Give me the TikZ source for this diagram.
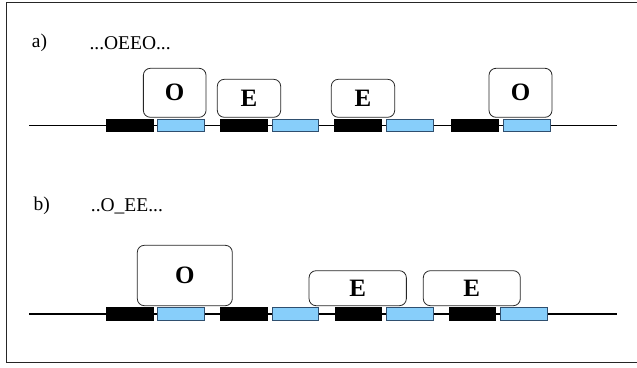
\documentclass[tikz,border=0pt]{standalone}
\usepackage{fontspec}
\setmainfont{Liberation Serif}
\definecolor{segblue}{HTML}{87CEFA}
\definecolor{segedge}{HTML}{2F4F6F}
\begin{document}
\begin{tikzpicture}[x=1pt,y=-1pt,
  frame/.style={line width=1pt, draw=black!85},
  dna/.style={line width=1.2pt},
  seg/.style={minimum height=12.7pt, minimum width=46.5pt, inner sep=0pt, anchor=west},
  blackseg/.style={seg, fill=black, draw=black, line width=0.5pt},
  blueseg/.style={seg, fill=segblue, draw=segedge, line width=0.8pt},
  prot/.style={draw=black!85, line width=0.8pt, rounded corners=7pt, fill=white, inner sep=0pt,
    font=\fontsize{25}{25}\selectfont\bfseries},
  lbl/.style={anchor=west, inner sep=0pt, font=\fontsize{19.5}{21}\selectfont}
]
\useasboundingbox (0,0) rectangle (637,367);
% frame
\draw[frame] (640,2) -- (6,2) -- (6,362) -- (640,362);

% labels
\node[lbl] (la) at (31.7,43.3) {a)};
\node[lbl] (sa) at (89.3,43.3) {...OEEO...};
\node[lbl] (lb) at (33.3,206) {b)};
\node[lbl] (sb) at (90.7,206) {..O\_EE...};

% DNA lines
\coordinate (a0) at (29,125.3);
\coordinate (a1) at (617,125.3);
\coordinate (b0) at (29,314);
\coordinate (b1) at (617,314);
\draw[dna] (a0) -- (a1);
\draw[dna] (b0) -- (b1);

% segments a
\node[blackseg] (ak1) at (106,125.3) {};
\node[blueseg]  (au1) at (157.3,125.3) {};
\node[blackseg] (ak2) at (220,125.3) {};
\node[blueseg]  (au2) at (271.7,125.3) {};
\node[blackseg] (ak3) at (334,125.3) {};
\node[blueseg]  (au3) at (386,125.3) {};
\node[blackseg] (ak4) at (451.3,125.3) {};
\node[blueseg]  (au4) at (503,125.3) {};

% segments b
\node[blackseg] (bk1) at (106,314) {};
\node[blueseg]  (bu1) at (157.3,314) {};
\node[blackseg] (bk2) at (220,314) {};
\node[blueseg]  (bu2) at (271.7,314) {};
\node[blackseg] (bk3) at (334.5,314) {};
\node[blueseg]  (bu3) at (386.3,314) {};
\node[blackseg] (bk4) at (448.7,314) {};
\node[blueseg]  (bu4) at (500.3,314) {};

% proteins a
\node[prot, minimum width=62.7pt, minimum height=49pt] (aO1) at (174.7,92.8) {O};
\node[prot, minimum width=63.4pt, minimum height=38pt] (aE1) at (249,98.3) {E};
\node[prot, minimum width=63.4pt, minimum height=38pt] (aE2) at (363,98.3) {E};
\node[prot, minimum width=63pt, minimum height=49pt] (aO2) at (520.5,92.8) {O};

% proteins b
\node[prot, minimum width=95pt, minimum height=60.4pt] (bO) at (184.8,275.5) {O};
\node[prot, minimum width=97.3pt, minimum height=35pt] (bE1) at (357.7,288.2) {E};
\node[prot, minimum width=97pt, minimum height=35pt] (bE2) at (471.8,288.2) {E};
\end{tikzpicture}
\end{document}
